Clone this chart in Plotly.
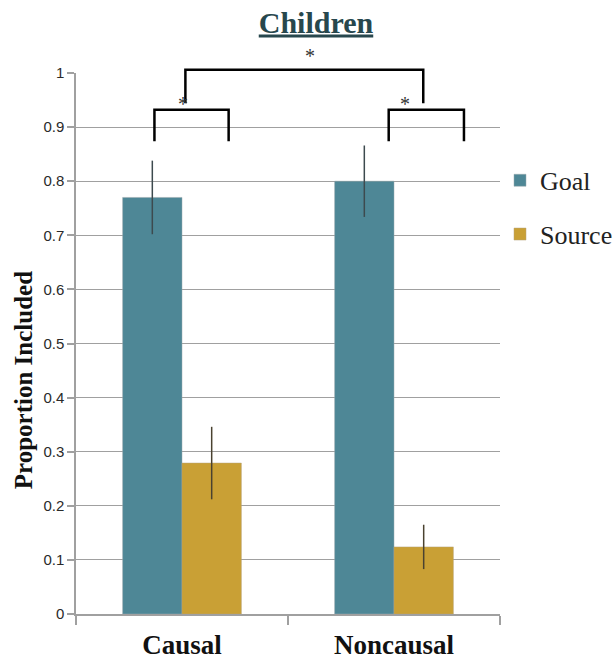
import plotly.graph_objects as go

categories = ["Causal", "Noncausal"]
goal = [0.77, 0.80]
goal_err = [0.068, 0.066]
source = [0.279, 0.124]
source_err = [0.067, 0.041]
y_ticks = [0, 0.1, 0.2, 0.3, 0.4, 0.5, 0.6, 0.7, 0.8, 0.9, 1]

TEAL = "#4e8796"
GOLD = "#c9a035"
SERIF = "Liberation Serif"

xpos = list(range(len(categories)))

fig = go.Figure()
fig.add_trace(go.Bar(
    x=xpos, y=goal, name="Goal", marker=dict(color=TEAL, line=dict(color="#9aa9ad", width=0.5)),
    error_y=dict(type="data", array=goal_err, color="#3d4a4e", thickness=1.5, width=0),
    legendgroup="g",
))
fig.add_trace(go.Bar(
    x=xpos, y=source, name="Source", marker=dict(color=GOLD, line=dict(color="#b5a27a", width=0.5)),
    error_y=dict(type="data", array=source_err, color="#4a4230", thickness=1.5, width=0),
    legendgroup="s",
))

def px(x):
    # data x (range -0.5..1.5) to paper x
    return (x + 0.5) / 2.0

shapes = []
def bracket(x0, x1, ytop, ybot):
    shapes.append(dict(type="path", xref="paper", yref="paper",
                       path=f"M {px(x0)},{ybot} L {px(x0)},{ytop} L {px(x1)},{ytop} L {px(x1)},{ybot}",
                       line=dict(color="black", width=2.5)))

bracket(-0.13, 0.22, 0.932, 0.874)
bracket(0.975, 1.33, 0.932, 0.874)
bracket(0.016, 1.138, 1.006, 0.944)

annotations = []
for (sx, sy) in [(-0.03, 0.967), (1.087, 0.967), (0.603, 1.055)]:
    annotations.append(dict(x=px(sx), y=sy, xref="paper", yref="paper", text="*",
                            showarrow=False, font=dict(family=SERIF, size=20, color="#333")))
annotations.append(dict(x=-0.1244, y=0.4325, xref="paper", yref="paper", text="<b>Proportion Included</b>",
                        textangle=-90, showarrow=False, xanchor="center", yanchor="middle",
                        font=dict(family=SERIF, size=25, color="#111")))

fig.update_layout(
    width=616, height=659,
    margin=dict(l=76, r=114, t=73, b=45),
    paper_bgcolor="white", plot_bgcolor="white",
    barmode="group", bargap=0.44, bargroupgap=0.0,
    title=dict(text="<b><u>Children</u></b>", x=316/616, xanchor="center", y=1-22/659, yanchor="middle",
               font=dict(family=SERIF, size=30, color="#27474d")),
    legend=dict(xref="container", x=500/616, xanchor="left", y=0.845, yanchor="top", tracegroupgap=17,
                font=dict(family=SERIF, size=26, color="#222"), bgcolor="rgba(0,0,0,0)"),
    shapes=shapes, annotations=annotations,
    showlegend=True,
)
fig.update_xaxes(
    range=[-0.5, 1.5], tickvals=xpos, ticktext=[f"<b>{c}</b>" for c in categories], ticks="", showgrid=False,
    tickfont=dict(family=SERIF, size=27, color="#111"), automargin=False, ticklabelstandoff=6,
    showline=True, linecolor="#a0a0a0", linewidth=1.5,
    minor=dict(tickvals=[-0.5, 0.5, 1.5], ticks="outside", ticklen=9, tickcolor="#a0a0a0", tickwidth=1.5, showgrid=False),
    zeroline=False,
)
fig.update_yaxes(
    range=[0, 1], tickvals=y_ticks, ticks="outside", ticklen=7, tickcolor="#a0a0a0", tickwidth=1.5,
    showgrid=True, gridcolor="#a0a0a0", gridwidth=1.2, automargin=False,
    showline=True, linecolor="#a0a0a0", linewidth=1.5, zeroline=False,
    tickfont=dict(family="Liberation Sans", size=15, color="#2a2a2a"),
)

fig.write_html("out.html", post_script="document.body.style.margin='0';",
               config={"displayModeBar": False})
